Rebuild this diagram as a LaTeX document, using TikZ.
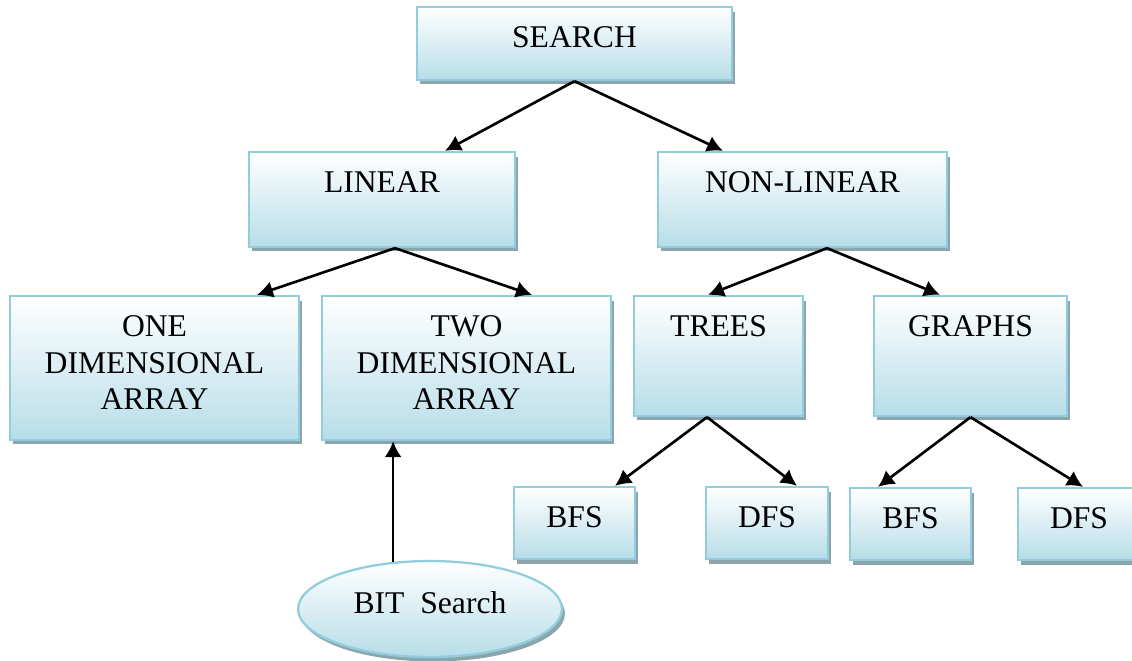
\documentclass[tikz,border=0pt]{standalone}
\usepackage{fontspec}
\setmainfont{Liberation Serif}
\usepackage{tikz}
\usetikzlibrary{
  arrows.meta,
  shapes.geometric,
  shadows
}

\definecolor{boxblue}{RGB}{183,221,232}
\definecolor{boxline}{RGB}{146,205,221}
\definecolor{boxshade}{RGB}{140,165,172}

\begin{document}
\begin{tikzpicture}[x=0.02cm,y=-0.02cm,>=Latex,
  box/.style={draw=boxline,line width=1.3pt,inner sep=0pt,
    top color=white,middle color=boxblue!75!white,bottom color=boxblue,
    drop shadow={shadow xshift=0.06cm,shadow yshift=-0.09cm,fill=boxshade,opacity=1}},
  txt/.style={anchor=north,inner sep=0pt,align=center,
    font=\fontsize{18pt}{21pt}\selectfont},
  arr/.style={line width=1.5pt,-{Latex[length=0.32cm,width=0.34cm]}}]
  \useasboundingbox (0,0) rectangle (1132,660);

  % boxes
  \node[box,minimum width=6.3cm,minimum height=1.46cm]  (search) at (574.5,43.5) {};
  \node[box,minimum width=5.32cm,minimum height=1.9cm]  (lin)    at (382,199.5)  {};
  \node[box,minimum width=5.78cm,minimum height=1.9cm]  (nonlin) at (802.5,199.5){};
  \node[box,minimum width=5.78cm,minimum height=2.88cm] (one)    at (154.5,368)  {};
  \node[box,minimum width=5.78cm,minimum height=2.88cm] (two)    at (466.5,368)  {};
  \node[box,minimum width=3.38cm,minimum height=2.4cm]  (trees)  at (718.5,356)  {};
  \node[box,minimum width=3.86cm,minimum height=2.4cm]  (graphs) at (970.5,356)  {};
  \node[box,minimum width=2.42cm,minimum height=1.44cm] (bfs1)   at (574.5,523)  {};
  \node[box,minimum width=2.44cm,minimum height=1.44cm] (dfs1)   at (767,523)    {};
  \node[box,minimum width=2.42cm,minimum height=1.44cm] (bfs2)   at (910.5,524)  {};
  \node[box,minimum width=2.44cm,minimum height=1.44cm] (dfs2)   at (1079,524)   {};
  \node[box,ellipse,minimum width=5.28cm,minimum height=1.92cm] (bit) at (430,609) {};

  % texts, hung from the top edge
  \node[txt] (search-t) at ([yshift=-0.4cm]search.north) {SEARCH};
  \node[txt] (lin-t)    at ([yshift=-0.4cm]lin.north)    {LINEAR};
  \node[txt] (nonlin-t) at ([yshift=-0.4cm]nonlin.north) {NON-LINEAR};
  \node[txt] (one-t)    at ([yshift=-0.4cm]one.north)    {ONE\\DIMENSIONAL\\ARRAY};
  \node[txt] (two-t)    at ([yshift=-0.4cm]two.north)    {TWO\\DIMENSIONAL\\ARRAY};
  \node[txt] (trees-t)  at ([yshift=-0.4cm]trees.north)  {TREES};
  \node[txt] (graphs-t) at ([yshift=-0.4cm]graphs.north) {GRAPHS};
  \node[txt] (bfs1-t)   at ([yshift=-0.4cm]bfs1.north)   {BFS};
  \node[txt] (dfs1-t)   at ([yshift=-0.4cm]dfs1.north)   {DFS};
  \node[txt] (bfs2-t)   at ([yshift=-0.4cm]bfs2.north)   {BFS};
  \node[txt] (dfs2-t)   at ([yshift=-0.4cm]dfs2.north)   {DFS};
  \node[txt,anchor=center] (bit-t) at ([yshift=0.12cm]bit.center) {BIT\ \ Search};

  % arrows
  \draw[arr] (search.south) -- ([xshift=1.26cm]lin.north);
  \draw[arr] (search.south) -- ([xshift=-1.59cm]nonlin.north);
  \draw[arr] ([xshift=0.26cm]lin.south) -- ([xshift=2.05cm]one.north);
  \draw[arr] ([xshift=0.26cm]lin.south) -- ([xshift=1.31cm]two.north);
  \draw[arr] ([xshift=0.49cm]nonlin.south) -- ([xshift=-0.21cm]trees.north);
  \draw[arr] ([xshift=0.49cm]nonlin.south) -- ([xshift=-0.61cm]graphs.north);
  \draw[arr] ([xshift=-0.23cm]trees.south) -- ([xshift=0.81cm]bfs1.north);
  \draw[arr] ([xshift=-0.23cm]trees.south) -- ([xshift=0.6cm]dfs1.north);
  \draw[arr] (graphs.south) -- ([xshift=-0.65cm]bfs2.north);
  \draw[arr] (graphs.south) -- ([xshift=0.08cm]dfs2.north);
  \draw[arr] (bit.128) -- (bit.128 |- two.south);
\end{tikzpicture}
\end{document}
